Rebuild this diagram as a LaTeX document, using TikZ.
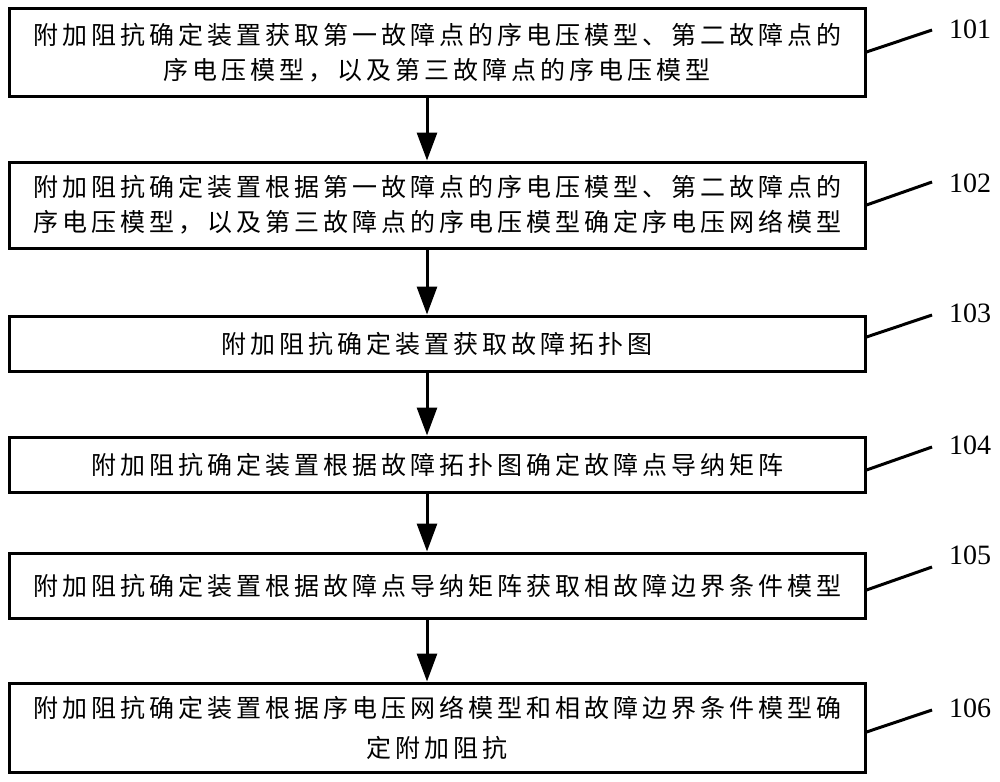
\documentclass[tikz,border=0pt]{standalone}
\usepackage{fontspec}
\setmainfont{Liberation Serif}
\newfontfamily\cjk[LetterSpace=16]{Noto Sans CJK SC}
\usetikzlibrary{arrows.meta}
\begin{document}
\begin{tikzpicture}[x=1pt,y=-1pt,
  stepbox/.style={draw=black,line width=3pt,minimum width=856pt,inner sep=0pt,
    align=center,font=\cjk\fontsize{25pt}{35pt}\selectfont},
  flowarrow/.style={line width=3pt,-{Triangle[width=20pt,length=28pt]}},
  leader/.style={line width=3pt},
  numlabel/.style={anchor=west,inner sep=0pt,font=\fontsize{28pt}{32pt}\selectfont}]
\useasboundingbox (0,0) rectangle (1000,781);
\coordinate (ax) at (427,0);
\node[stepbox,minimum height=88pt] (b1) at (437,53)
  {附加阻抗确定装置获取第一故障点的序电压模型、第二故障点的\\序电压模型，以及第三故障点的序电压模型};
\node[stepbox,minimum height=86pt] (b2) at (437,205)
  {附加阻抗确定装置根据第一故障点的序电压模型、第二故障点的\\序电压模型，以及第三故障点的序电压模型确定序电压网络模型};
\node[stepbox,minimum height=55pt] (b3) at (437,343.5)
  {附加阻抗确定装置获取故障拓扑图};
\node[stepbox,minimum height=55pt] (b4) at (437,464.5)
  {附加阻抗确定装置根据故障拓扑图确定故障点导纳矩阵};
\node[stepbox,minimum height=65pt] (b5) at (437,585.5)
  {附加阻抗确定装置根据故障点导纳矩阵获取相故障边界条件模型};
\node[stepbox,minimum height=89pt,font=\cjk\fontsize{25pt}{40pt}\selectfont] (b6) at (437,727.5)
  {附加阻抗确定装置根据序电压网络模型和相故障边界条件模型确\\定附加阻抗};
\draw[flowarrow] (b1.south -| ax) -- (b2.north -| ax);
\draw[flowarrow] (b2.south -| ax) -- (b3.north -| ax);
\draw[flowarrow] (b3.south -| ax) -- (b4.north -| ax);
\draw[flowarrow] (b4.south -| ax) -- (b5.north -| ax);
\draw[flowarrow] (b5.south -| ax) -- (b6.north -| ax);
\coordinate (e1) at (932,30);
\coordinate (e2) at (932,182);
\coordinate (e3) at (932,315);
\coordinate (e4) at (932,447);
\coordinate (e5) at (932,567);
\coordinate (e6) at (932,710);
\draw[leader] ([yshift=1pt]b1.east) -- (e1);
\draw[leader] (b2.east) -- (e2);
\draw[leader] ([yshift=6.5pt]b3.east) -- (e3);
\draw[leader] ([yshift=-5.5pt]b4.east) -- (e4);
\draw[leader] ([yshift=-4.5pt]b5.east) -- (e5);
\draw[leader] ([yshift=-4.5pt]b6.east) -- (e6);
\node[numlabel] (n1) at (949,29.5) {101};
\node[numlabel] (n2) at (949,183) {102};
\node[numlabel] (n3) at (949,313) {103};
\node[numlabel] (n4) at (949,445) {104};
\node[numlabel] (n5) at (949,555) {105};
\node[numlabel] (n6) at (949,708) {106};
\end{tikzpicture}
\end{document}
